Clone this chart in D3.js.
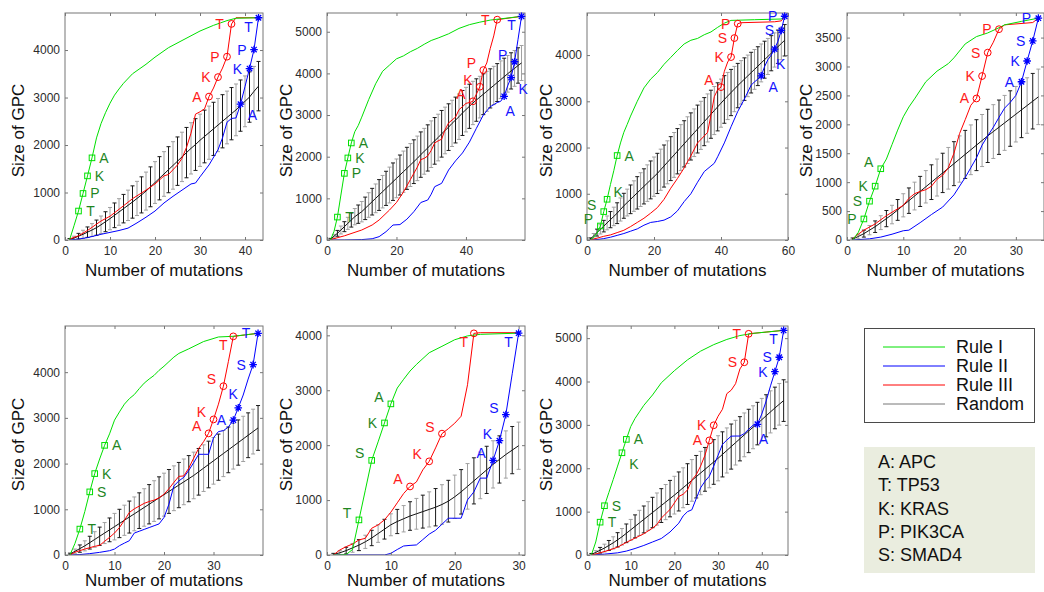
<!DOCTYPE html>
<html><head><meta charset="utf-8">
<script src="https://cdn.jsdelivr.net/npm/d3@7"></script>
<style>
body{margin:0;background:#fff;}
svg text{font-family:"Liberation Sans",Arial,Helvetica,sans-serif;}
</style></head>
<body><svg id="c" width="1044" height="592"></svg>
<script>
// ---------------- DATA ----------------
// Panel 1
const p1Domain = [44, 4780];
const p1XTicks = [0,10,20,30,40];
const p1YTicks = [0,1000,2000,3000,4000];
const p1RuleI = [[1,0],[2,300],[3,610],[4,980],[5,1350],[6,1730],[7,2150],[8,2450],[9,2680],[10,2880],[11,3050],[12,3180],[13,3300],[15,3500],[18,3700],[20,3850],[23,4050],[26,4200],[30,4400],[33,4520],[36,4620],[38,4670],[43,4680]];
const p1RuleII = [[1,0],[3,20],[5,50],[8,120],[10,160],[12,200],[14,250],[16,360],[18,480],[20,610],[22,780],[24,920],[26,1050],[28,1180],[29,1200],[30,1330],[32,1580],[34,1900],[35,2150],[36,2480],[37,2560],[38,2570],[39,2860],[40,3230],[41,3610],[42,4010],[43,4680]];
const p1RuleIII = [[1,20],[3,90],[5,200],[8,400],[10,500],[13,720],[15,870],[18,1050],[20,1180],[22,1350],[23,1380],[25,1580],[26,1720],[27,1950],[28,2250],[29,2650],[30,2700],[31,2760],[32,3020],[33,3200],[34,3430],[35,3620],[36,3860],[37,4550],[38,4680],[43,4680]];
const p1MarkI = [[3,610,"T"],[4,980,"P"],[5,1350,"K"],[6,1730,"A"]];
const p1MarkII = [[39,2860,"A"],[41,3610,"K"],[42,4010,"P"],[43,4680,"T"]];
const p1MarkIII = [[32,3020,"A"],[34,3430,"K"],[36,3860,"P"],[37,4550,"T"]];
const p1RandMean = [10,40,80,120,165,210,260,320,385,450,520,590,660,730,800,875,950,1030,1120,1210,1300,1390,1480,1570,1660,1750,1840,1930,2010,2100,2180,2260,2340,2420,2500,2580,2660,2740,2830,2920,3010,3130,3240];
const p1RandErr = [20,40,60,85,110,135,160,185,210,235,260,280,300,320,340,360,380,400,420,440,455,470,485,500,510,520,530,540,545,550,555,560,560,560,560,555,550,545,540,535,530,525,520];

// Panel 2
const p2Domain = [57, 5450];
const p2XTicks = [0,20,40];
const p2YTicks = [0,1000,2000,3000,4000,5000];
const p2RuleI = [[1,0],[2,200],[3,550],[4,1080],[5,1600],[6,1970],[7,2330],[8,2600],[9,2750],[10,2950],[12,3370],[14,3750],[16,4050],[18,4200],[20,4350],[22,4420],[24,4520],[26,4600],[28,4700],[30,4790],[32,4850],[35,4950],[38,5080],[41,5170],[44,5230],[47,5280],[50,5310],[53,5340],[56,5370]];
const p2RuleII = [[1,0],[5,0],[10,10],[13,30],[15,80],[17,200],[18,280],[19,360],[21,370],[23,500],[25,680],[27,900],[29,960],[30,1100],[31,1280],[33,1360],[35,1680],[37,1900],[39,2090],[41,2350],[43,2680],[45,3000],[47,3200],[49,3300],[50,3330],[51,3450],[52,3700],[53,3900],[54,4280],[55,4820],[56,5370]];
const p2RuleIII = [[1,10],[5,100],[10,240],[13,360],[15,480],[18,720],[20,900],[22,1150],[24,1450],[26,1750],[27,1930],[28,1960],[29,2020],[30,2150],[31,2330],[32,2380],[33,2420],[34,2650],[35,2810],[36,2880],[37,2950],[38,3130],[39,3200],[40,3280],[41,3300],[42,3330],[43,3500],[44,3680],[45,4080],[46,4250],[47,4600],[48,4900],[49,5290],[56,5370]];
const p2MarkI = [[3,550,"T"],[5,1600,"P"],[6,1970,"K"],[7,2330,"A"]];
const p2MarkII = [[51,3450,"A"],[53,3900,"K"],[54,4280,"P"],[56,5370,"T"]];
const p2MarkIII = [[42,3330,"A"],[44,3680,"K"],[45,4080,"P"],[49,5290,"T"]];
const p2RandMean = [20,90,160,240,320,400,480,560,620,680,760,840,920,1000,1080,1160,1240,1320,1400,1480,1560,1640,1720,1800,1880,1960,2050,2130,2210,2300,2380,2460,2550,2630,2710,2800,2880,2960,3050,3130,3210,3290,3360,3430,3500,3570,3640,3710,3780,3850,3920,3990,4060,4120,4190,4250];
const p2RandErr = [20,45,70,95,120,145,170,195,220,245,270,295,320,345,370,390,410,430,450,465,480,495,505,515,525,535,545,550,555,560,560,560,560,560,560,555,550,545,540,535,530,520,510,500,490,480,470,460,455,450,445,440,435,430,425,420];

// Panel 3
const p3Domain = [60, 4910];
const p3XTicks = [0,20,40,60];
const p3YTicks = [0,1000,2000,3000,4000];
const p3RuleI = [[1,0],[2,60],[3,150],[4,303],[5,614],[6,881],[7,1200],[8,1500],[9,1827],[10,2100],[11,2330],[12,2500],[13,2680],[15,3000],[17,3290],[19,3480],[21,3620],[23,3800],[25,3950],[27,4100],[29,4240],[31,4320],[33,4360],[35,4440],[37,4500],[39,4600],[41,4690],[43,4750],[50,4765],[58,4780],[59,4840]];
const p3RuleII = [[1,0],[3,10],[5,30],[7,60],[9,100],[11,140],[13,190],[15,240],[17,320],[19,380],[21,400],[23,430],[25,500],[27,630],[29,830],[31,1000],[33,1250],[35,1480],[37,1600],[38,1660],[39,1800],[41,2100],[43,2450],[45,2780],[47,3050],[49,3350],[50,3420],[51,3480],[52,3552],[53,3750],[54,3900],[55,4000],[56,4130],[57,4300],[58,4534],[59,4840]];
const p3RuleIII = [[1,0],[3,40],[5,80],[7,110],[9,160],[11,210],[13,290],[15,380],[17,470],[19,580],[21,700],[23,880],[25,1120],[27,1330],[29,1560],[31,1820],[33,2100],[35,2250],[36,2330],[37,2700],[38,3100],[39,3250],[40,3307],[41,3650],[42,3850],[43,3957],[44,4368],[45,4679],[46,4700],[56,4720],[58,4740],[59,4840]];
const p3MarkI = [[4,303,"P"],[5,614,"S"],[6,881,"K"],[9,1827,"A"]];
const p3MarkII = [[52,3552,"A"],[56,4130,"K"],[58,4534,"S"],[59,4840,"P"]];
const p3MarkIII = [[40,3307,"A"],[43,3957,"K"],[44,4368,"S"],[45,4679,"P"]];
const p3RandMean = [20,90,160,230,300,370,440,510,580,660,740,810,880,950,1020,1090,1160,1230,1300,1370,1440,1520,1600,1680,1760,1840,1920,2000,2080,2160,2240,2320,2400,2480,2560,2640,2720,2800,2880,2960,3040,3115,3190,3265,3340,3410,3480,3550,3620,3690,3760,3830,3900,3970,4040,4110,4180,4250,4320];
const p3RandErr = [25,50,75,100,125,150,175,200,225,250,270,290,310,330,350,365,380,395,410,425,435,445,455,465,475,485,490,495,500,505,510,515,518,520,520,520,520,520,520,520,515,510,500,490,480,470,460,450,440,430,420,410,400,390,380,370,360,350,340];

// Panel 4
const p4Domain = [35, 3925];
const p4XTicks = [0,10,20,30];
const p4YTicks = [0,500,1000,1500,2000,2500,3000,3500];
const p4RuleI = [[1,0],[2,130],[3,364],[4,671],[5,931],[6,1232],[7,1400],[8,1650],[9,1900],[10,2130],[11,2300],[12,2440],[14,2736],[16,2920],[18,3050],[19,3150],[21,3390],[23,3517],[25,3580],[27,3670],[28,3720],[31,3780],[34,3836]];
const p4RuleII = [[1,0],[4,20],[6,50],[8,100],[10,160],[11,170],[13,300],[15,440],[17,570],[19,780],[21,1080],[22,1250],[23,1420],[24,1640],[25,1800],[26,1950],[27,2120],[28,2280],[29,2380],[30,2500],[31,2736],[32,3095],[33,3442],[34,3836]];
const p4RuleIII = [[1,20],[2,100],[3,170],[5,278],[7,420],[8,480],[10,600],[11,720],[12,800],[13,840],[14,870],[15,930],[16,1050],[17,1120],[18,1250],[19,1500],[20,1840],[21,2080],[22,2330],[23,2447],[24,2835],[25,3240],[26,3420],[27,3645],[28,3720],[33,3760],[34,3836]];
const p4MarkI = [[3,364,"P"],[4,671,"S"],[5,931,"K"],[6,1232,"A"]];
const p4MarkII = [[31,2736,"A"],[32,3095,"K"],[33,3442,"S"],[34,3836,"P"]];
const p4MarkIII = [[23,2447,"A"],[24,2835,"K"],[25,3240,"S"],[27,3645,"P"]];
const p4RandMean = [15,60,110,170,230,300,370,440,520,600,680,760,840,920,1000,1080,1160,1240,1320,1400,1480,1560,1640,1720,1800,1875,1950,2025,2100,2175,2250,2325,2400,2475];
const p4RandErr = [20,40,60,80,100,120,140,160,180,200,220,240,260,280,300,320,340,360,380,400,415,430,440,450,460,465,470,475,480,480,480,480,480,480];

// Panel 5
const p5Domain = [40, 5010];
const p5XTicks = [0,10,20,30];
const p5YTicks = [0,1000,2000,3000,4000];
const p5RuleI = [[1,0],[2,250],[3,567],[4,950],[5,1381],[6,1781],[7,2100],[8,2399],[9,2650],[10,2950],[11,3130],[12,3300],[13,3420],[14,3510],[15,3640],[16,3760],[17,3850],[18,3930],[19,4040],[20,4130],[21,4230],[22,4330],[23,4410],[25,4510],[28,4670],[31,4770],[34,4785],[39,4850]];
const p5RuleII = [[1,0],[3,10],[5,30],[7,58],[9,94],[10,130],[11,204],[12,260],[13,313],[14,480],[15,520],[16,560],[17,600],[18,640],[19,680],[20,821],[21,1112],[22,1512],[23,1620],[24,1700],[25,1850],[26,2021],[27,2203],[28,2203],[29,2203],[30,2566],[31,2700],[32,2720],[33,2800],[34,2951],[35,3220],[36,3500],[37,3850],[38,4166],[39,4850]];
const p5RuleIII = [[1,0],[2,60],[4,130],[6,190],[7,210],[8,300],[9,385],[10,480],[11,600],[12,760],[13,930],[14,1010],[15,1070],[16,1130],[17,1170],[18,1200],[19,1250],[20,1330],[21,1450],[22,1590],[23,1720],[24,1730],[25,1900],[26,2120],[27,2330],[28,2480],[29,2661],[30,2966],[31,3300],[32,3693],[33,4230],[34,4783],[39,4850]];
const p5MarkI = [[3,567,"T"],[5,1381,"S"],[6,1781,"K"],[8,2399,"A"]];
const p5MarkII = [[34,2951,"A"],[35,3220,"K"],[38,4166,"S"],[39,4850,"T"]];
const p5MarkIII = [[29,2661,"A"],[30,2966,"K"],[32,3693,"S"],[34,4783,"T"]];
const p5RandMean = [20,80,140,200,270,340,410,480,550,620,690,760,830,900,970,1040,1110,1180,1250,1320,1390,1460,1530,1600,1670,1740,1820,1900,1980,2060,2140,2220,2300,2380,2460,2540,2620,2700,2780];
const p5RandErr = [20,50,80,110,140,170,200,230,260,290,310,330,350,370,390,410,430,445,460,470,480,490,495,500,505,510,510,510,510,510,505,505,500,500,495,495,490,490,490];

// Panel 6
const p6Domain = [31, 4170];
const p6XTicks = [0,10,20,30];
const p6YTicks = [0,1000,2000,3000,4000];
const p6RuleI = [[1,0],[2,0],[3,10],[4,100],[5,639],[6,1180],[7,1723],[8,2060],[9,2405],[10,2752],[11,3040],[12,3200],[13,3350],[14,3470],[16,3683],[18,3800],[20,3920],[22,3990],[24,4018],[30,4040]];
const p6RuleII = [[1,0],[9,0],[10,30],[11,100],[12,164],[13,175],[14,183],[15,280],[16,380],[17,450],[18,560],[19,670],[20,670],[21,670],[22,1004],[23,1150],[24,1400],[25,1400],[26,1723],[27,2082],[28,2557],[29,3300],[30,4040]];
const p6RuleIII = [[1,0],[2,91],[3,152],[4,200],[5,274],[6,304],[7,487],[8,548],[9,640],[10,780],[11,950],[12,1120],[13,1248],[14,1330],[15,1550],[16,1705],[17,1950],[18,2210],[19,2300],[20,2400],[21,2527],[22,3100],[23,4036],[24,4048],[30,4048]];
const p6MarkI = [[5,639,"T"],[7,1723,"S"],[9,2405,"K"],[10,2752,"A"]];
const p6MarkII = [[26,1723,"A"],[27,2082,"K"],[28,2557,"S"],[30,4040,"T"]];
const p6MarkIII = [[13,1248,"A"],[16,1705,"K"],[18,2210,"S"],[23,4036,"T"]];
const p6RandMean = [10,40,80,130,180,240,310,390,470,550,610,660,710,750,790,830,870,920,980,1060,1150,1250,1350,1450,1550,1650,1740,1830,1910,1990];
const p6RandErr = [20,40,60,80,100,120,140,160,180,200,220,240,260,280,300,320,340,360,380,395,405,415,420,425,430,430,430,430,430,430];

// Panel 7
const p7Domain = [46, 5280];
const p7XTicks = [0,10,20,30,40];
const p7YTicks = [0,1000,2000,3000,4000,5000];
const p7RuleI = [[1,0],[2,300],[3,757],[4,1136],[5,1440],[6,1740],[7,2050],[8,2357],[9,2666],[10,2960],[11,3150],[12,3300],[13,3450],[15,3690],[17,3970],[20,4250],[23,4500],[26,4700],[29,4850],[32,4970],[35,5060],[38,5110],[41,5140],[45,5180]];
const p7RuleII = [[1,0],[4,20],[7,50],[9,90],[11,150],[13,220],[15,300],[17,380],[19,530],[21,734],[22,900],[23,1000],[24,1043],[25,1300],[26,1550],[27,1700],[28,1816],[29,2050],[30,2300],[31,2550],[32,2650],[33,2740],[34,2743],[35,2743],[36,2800],[37,2900],[38,2990],[39,3014],[40,3250],[41,3550],[42,3900],[43,4227],[44,4559],[45,5178]];
const p7RuleIII = [[1,0],[3,50],[5,110],[7,180],[9,290],[11,390],[13,490],[15,620],[16,700],[17,850],[18,950],[19,1050],[20,1200],[21,1350],[22,1400],[23,1500],[24,1730],[25,1850],[26,2050],[27,2300],[28,2643],[29,2991],[30,3200],[31,3360],[32,3720],[33,3800],[34,3950],[35,4290],[36,4444],[37,5100],[45,5180]];
const p7MarkI = [[3,757,"T"],[4,1136,"S"],[8,2357,"K"],[9,2666,"A"]];
const p7MarkII = [[39,3014,"A"],[43,4227,"K"],[44,4559,"S"],[45,5178,"T"]];
const p7MarkIII = [[28,2643,"A"],[29,2991,"K"],[36,4444,"S"],[37,5100,"T"]];
const p7RandMean = [15,60,110,160,220,280,350,420,500,580,660,740,820,900,980,1060,1140,1220,1300,1380,1465,1550,1635,1720,1805,1890,1975,2060,2145,2230,2320,2410,2500,2590,2680,2770,2860,2945,3030,3120,3210,3300,3390,3475,3560];
const p7RandErr = [20,40,65,90,115,140,165,190,215,240,265,290,310,330,350,370,390,405,420,435,450,460,470,480,490,500,505,510,515,520,520,520,520,515,510,505,500,495,490,490,485,485,480,480,480];

// Legend / gene key
const legendNames = ["Rule I","Rule II","Rule III","Random"];
const geneKey = ["A: APC","T: TP53","K: KRAS","P: PIK3CA","S: SMAD4"];
const xTitle = "Number of mutations";
const yTitle = "Size of GPC";

// ---------------- LAYOUT / STYLE (not data) ----------------
const labelSides = [
  {I:["r","r","r","r"], II:["br","l","l","bl"], III:["l","l","l","l"]},
  {I:["r","r","r","r"], II:["b","br","al","bl"], III:["al","al","al","l"]},
  {I:["al","al","ar","r"], II:["br","b","l","l"], III:["al","l","l","l"]},
  {I:["l","l","l","al"], II:["l","l","l","l"], III:["l","l","l","l"]},
  {I:["r","r","r","r"], II:["l","a","l","l"], III:["al","al","al","bl"]},
  {I:["al","al","l","al"], II:["al","al","al","bl"], III:["al","al","al","bl"]},
  {I:["r","r","br","r"], II:["b","l","l","bl"], III:["l","l","l","l"]}
];
const OFF = {r:[12,0], l:[-12,0], al:[-12,-7], ar:[11,-7], br:[12,11], bl:[-10,9], b:[6,15], a:[-5,-14]};
const boxes = [
  {l:65,r:263,t:13,b:240,tb:36},
  {l:327,r:525,t:13,b:240,tb:36},
  {l:587,r:788,t:13,b:240,tb:36},
  {l:847,r:1044,t:13,b:240,tb:36},
  {l:65,r:263,t:326,b:555,tb:31},
  {l:327,r:525,t:326,b:555,tb:31},
  {l:587,r:788,t:326,b:555,tb:31}
];
const COL = {I:"#00e000", II:"#0000ff", III:"#ff0000", rand:"#111"};
const LBL = {I:"#1f861f", II:"#1414ff", III:"#ff1a1a"};

const panels = [
 {d:p1Domain,xt:p1XTicks,yt:p1YTicks,I:p1RuleI,II:p1RuleII,III:p1RuleIII,mI:p1MarkI,mII:p1MarkII,mIII:p1MarkIII,mean:p1RandMean,err:p1RandErr},
 {d:p2Domain,xt:p2XTicks,yt:p2YTicks,I:p2RuleI,II:p2RuleII,III:p2RuleIII,mI:p2MarkI,mII:p2MarkII,mIII:p2MarkIII,mean:p2RandMean,err:p2RandErr},
 {d:p3Domain,xt:p3XTicks,yt:p3YTicks,I:p3RuleI,II:p3RuleII,III:p3RuleIII,mI:p3MarkI,mII:p3MarkII,mIII:p3MarkIII,mean:p3RandMean,err:p3RandErr},
 {d:p4Domain,xt:p4XTicks,yt:p4YTicks,I:p4RuleI,II:p4RuleII,III:p4RuleIII,mI:p4MarkI,mII:p4MarkII,mIII:p4MarkIII,mean:p4RandMean,err:p4RandErr},
 {d:p5Domain,xt:p5XTicks,yt:p5YTicks,I:p5RuleI,II:p5RuleII,III:p5RuleIII,mI:p5MarkI,mII:p5MarkII,mIII:p5MarkIII,mean:p5RandMean,err:p5RandErr},
 {d:p6Domain,xt:p6XTicks,yt:p6YTicks,I:p6RuleI,II:p6RuleII,III:p6RuleIII,mI:p6MarkI,mII:p6MarkII,mIII:p6MarkIII,mean:p6RandMean,err:p6RandErr},
 {d:p7Domain,xt:p7XTicks,yt:p7YTicks,I:p7RuleI,II:p7RuleII,III:p7RuleIII,mI:p7MarkI,mII:p7MarkII,mIII:p7MarkIII,mean:p7RandMean,err:p7RandErr}
];

const svg = d3.select("#c");
svg.append("rect").attr("width",1044).attr("height",592).attr("fill","#fff");

function drawPanel(p, box, idx) {
  const x = d3.scaleLinear().domain([0, p.d[0]]).range([box.l, box.r]);
  const y = d3.scaleLinear().domain([0, p.d[1]]).range([box.b, box.t]);
  const g = svg.append("g");
  const cid = "clip" + idx;
  svg.append("clipPath").attr("id", cid).append("rect")
    .attr("x", box.l).attr("y", box.t).attr("width", box.r - box.l).attr("height", box.b - box.t);
  const pg = g.append("g").attr("clip-path", `url(#${cid})`);

  // random error bars
  const eb = p.mean.map((m, i) => ({x: i + 1, m, e: p.err[i]}));
  const bars = pg.append("g").selectAll("g").data(eb).join("g")
    .attr("stroke", (d, i) => i % 2 === 0 ? "#1a1a1a" : "#a0a0a0")
    .attr("stroke-width", 1).attr("fill", "none");
  bars.append("line").attr("x1", d => x(d.x)).attr("x2", d => x(d.x))
    .attr("y1", d => y(d.m - d.e)).attr("y2", d => y(d.m + d.e));
  bars.append("line").attr("x1", d => x(d.x) - 2).attr("x2", d => x(d.x) + 2)
    .attr("y1", d => y(d.m + d.e)).attr("y2", d => y(d.m + d.e));
  bars.append("line").attr("x1", d => x(d.x) - 2).attr("x2", d => x(d.x) + 2)
    .attr("y1", d => y(d.m - d.e)).attr("y2", d => y(d.m - d.e));
  const line = d3.line().x(d => x(d[0])).y(d => y(d[1]));
  pg.append("path").datum(eb.map(d => [d.x, d.m])).attr("d", line)
    .attr("fill", "none").attr("stroke", COL.rand).attr("stroke-width", 1);

  // rule lines
  [["II", p.II], ["III", p.III], ["I", p.I]].forEach(([k, data]) => {
    pg.append("path").datum(data).attr("d", line).attr("fill", "none")
      .attr("stroke", COL[k]).attr("stroke-width", 1);
  });

  // frame and ticks
  g.append("rect").attr("x", box.l).attr("y", box.t).attr("width", box.r - box.l).attr("height", box.b - box.t)
    .attr("fill", "none").attr("stroke", "#777").attr("stroke-width", 1);
  const ax = (gen, tr) => {
    const a = g.append("g").attr("transform", tr).call(gen);
    a.select(".domain").remove();
    a.selectAll(".tick line").attr("stroke", "#777");
    a.selectAll("text").attr("font-size", 12).attr("fill", "#2b2b2b")
      .attr("font-family", "Liberation Sans, Arial, sans-serif");
    return a;
  };
  ax(d3.axisBottom(x).tickValues(p.xt).tickSizeInner(-3).tickSizeOuter(0).tickPadding(6).tickFormat(d3.format("d")), `translate(0,${box.b})`);
  ax(d3.axisTop(x).tickValues(p.xt).tickSizeInner(-3).tickSizeOuter(0).tickFormat(""), `translate(0,${box.t})`);
  ax(d3.axisLeft(y).tickValues(p.yt).tickSizeInner(-3).tickSizeOuter(0).tickPadding(5).tickFormat(d3.format("d")), `translate(${box.l},0)`);
  ax(d3.axisRight(y).tickValues(p.yt).tickSizeInner(-3).tickSizeOuter(0).tickFormat(""), `translate(${box.r},0)`);

  // titles
  g.append("text").attr("x", (box.l + box.r) / 2).attr("y", box.b + box.tb)
    .attr("text-anchor", "middle").attr("font-size", 17).attr("fill", "#111").text(xTitle);
  const ty = (box.t + box.b) / 2 + 4;
  const tx = box.l - (idx === 0 || idx === 4 ? 47 : 41);
  g.append("text").attr("transform", `translate(${tx},${ty}) rotate(-90)`)
    .attr("text-anchor", "middle").attr("dominant-baseline", "central")
    .attr("font-size", 17).attr("fill", "#111").text(yTitle);

  // markers
  const sides = labelSides[idx];
  const mk = g.append("g");
  mk.selectAll("rect.sq").data(p.mI).join("rect").attr("class", "sq")
    .attr("x", d => x(d[0]) - 2.8).attr("y", d => y(d[1]) - 2.8).attr("width", 5.6).attr("height", 5.6)
    .attr("fill", "none").attr("stroke", COL.I).attr("stroke-width", 1);
  mk.selectAll("circle.ci").data(p.mIII).join("circle").attr("class", "ci")
    .attr("cx", d => x(d[0])).attr("cy", d => y(d[1])).attr("r", 3.4)
    .attr("fill", "none").attr("stroke", COL.III).attr("stroke-width", 1);
  const star = "M-3.8,0H3.8M0,-3.8V3.8M-2.7,-2.7L2.7,2.7M-2.7,2.7L2.7,-2.7";
  mk.selectAll("path.st").data(p.mII).join("path").attr("class", "st")
    .attr("transform", d => `translate(${x(d[0])},${y(d[1])})`).attr("d", star)
    .attr("fill", "none").attr("stroke", COL.II).attr("stroke-width", 1.3);
  [["I", p.mI], ["II", p.mII], ["III", p.mIII]].forEach(([k, arr]) => {
    mk.selectAll("text.l" + k).data(arr).join("text").attr("class", "l" + k)
      .attr("x", (d, i) => x(d[0]) + OFF[sides[k][i]][0])
      .attr("y", (d, i) => y(d[1]) + OFF[sides[k][i]][1])
      .attr("text-anchor", "middle").attr("dominant-baseline", "central")
      .attr("font-size", 14).attr("fill", LBL[k]).text(d => d[2]);
  });
}

panels.forEach((p, i) => drawPanel(p, boxes[i], i));

// legend
const lg = svg.append("g");
lg.append("rect").attr("x", 864.5).attr("y", 328.5).attr("width", 170).attr("height", 94)
  .attr("fill", "#fff").attr("stroke", "#4a4a4a").attr("stroke-width", 1);
const legCol = [COL.I, COL.II, COL.III, "#777"];
const ly = d3.scalePoint().domain(legendNames).range([347, 404]);
lg.selectAll("line.lg").data(legendNames).join("line").attr("class", "lg")
  .attr("x1", 883).attr("x2", 945).attr("y1", d => ly(d)).attr("y2", d => ly(d))
  .attr("stroke", (d, i) => legCol[i]).attr("stroke-width", 1);
lg.selectAll("text.lg").data(legendNames).join("text").attr("class", "lg")
  .attr("x", 956).attr("y", d => ly(d)).attr("dominant-baseline", "central")
  .attr("font-size", 18).attr("fill", "#111").text(d => d);

// gene key
const gk = svg.append("g");
gk.append("rect").attr("x", 864).attr("y", 447).attr("width", 171).attr("height", 126).attr("fill", "#eaeddf");
const gy = d3.scalePoint().domain(geneKey).range([462, 555]);
gk.selectAll("text").data(geneKey).join("text")
  .attr("x", 878).attr("y", d => gy(d)).attr("dominant-baseline", "central")
  .attr("font-size", 18).attr("fill", "#111").text(d => d);
</script>
</body></html>
